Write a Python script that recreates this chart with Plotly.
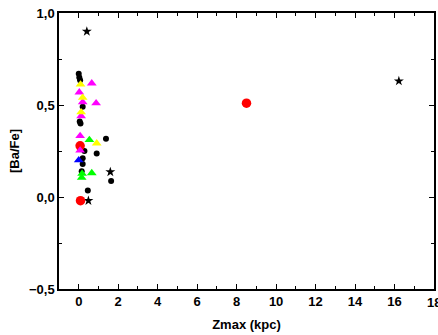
import plotly.graph_objects as go

# Data
black_x = [0.0, 0.03, 0.07, 0.2, 0.09, 0.05, 1.38, 0.29, 0.91, 0.2, 0.2, 0.15, 1.64, 0.46]
black_y = [0.67, 0.65, 0.635, 0.49, 0.40, 0.41, 0.316, 0.25, 0.236, 0.21, 0.18, 0.14, 0.087, 0.036]

star_x = [0.41, 16.22, 1.6, 0.49]
star_y = [0.90, 0.63, 0.136, -0.02]

red_x = [8.5, 0.07, 0.09]
red_y = [0.51, 0.278, -0.02]

magenta_x = [0.66, 0.03, 0.2, 0.88, 0.12, 0.07, 0.07]
magenta_y = [0.618, 0.569, 0.515, 0.51, 0.44, 0.332, 0.253]

yellow_x = [0.09, 0.2, 0.12, 0.91]
yellow_y = [0.612, 0.54, 0.461, 0.292]

green_x = [0.54, 0.17, 0.66, 0.15]
green_y = [0.31, 0.127, 0.13, 0.105]

blue_x = [0.0]
blue_y = [0.2]

x_title = "Zmax (kpc)"
y_title = "[Ba/Fe]"
x_range = [-1, 18]
y_range = [-0.5, 1.0]

fig = go.Figure()

def add(xs, ys, color, symbol, size):
    fig.add_trace(go.Scatter(
        x=xs, y=ys, mode="markers",
        marker=dict(color=color, symbol=symbol, size=size, line=dict(width=0)),
        showlegend=False, cliponaxis=False, hoverinfo="skip"))

add(black_x, black_y, "#000000", "circle", 6)
add(star_x, star_y, "#000000", "star", 7.5)
add(red_x, red_y, "#FF0000", "circle", 9.5)
add(magenta_x, magenta_y, "#FF00FF", "triangle-up", 8.5)
add(yellow_x, yellow_y, "#FFFF00", "triangle-up", 8.5)
add(green_x, green_y, "#00FF00", "triangle-up", 8.5)
add(blue_x, blue_y, "#0000FF", "triangle-up", 8.5)

tick_font = dict(family="Liberation Sans", size=13, color="black", weight="bold")
title_font = dict(family="Liberation Sans", size=13, color="black", weight="bold")

axis_common = dict(
    showline=True, linecolor="black", linewidth=1.5, mirror="ticks",
    ticks="inside", ticklen=5, tickwidth=1.2, tickcolor="black",
    showgrid=False, zeroline=False, automargin=False,
    tickfont=tick_font,
)

fig.update_xaxes(
    range=x_range, dtick=2, tick0=0,
    minor=dict(ticks="inside", ticklen=3, dtick=1, tick0=0, tickcolor="black", tickwidth=1.2),
    title=dict(text=x_title, font=title_font, standoff=12),
    **axis_common)
fig.update_yaxes(
    range=y_range, dtick=0.5, tick0=0, tickformat=".1f",
    minor=dict(ticks="inside", ticklen=3, dtick=0.25, tick0=0, tickcolor="black", tickwidth=1.2),
    title=dict(text=y_title, font=title_font, standoff=6),
    **axis_common)

# last x tick label, which the reference shows cut off at the right edge
fig.add_annotation(x=x_range[1], y=y_range[0], xref="x", yref="y", text="18",
                   showarrow=False, yanchor="top", yshift=-4, font=tick_font)

fig.update_layout(
    width=438, height=335,
    margin=dict(l=59, r=4, t=13, b=46),
    plot_bgcolor="white", paper_bgcolor="white",
    separators=", ",
)

fig.write_html("out.html", config={"displayModeBar": False},
               post_script="document.body.style.margin='0';document.body.style.overflow='hidden';")
